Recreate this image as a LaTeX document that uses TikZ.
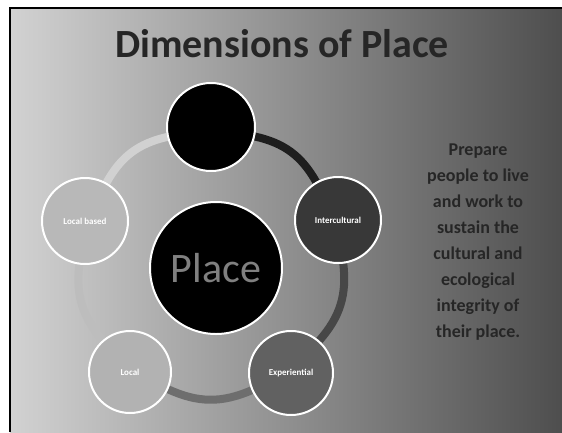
\documentclass[tikz,border=0pt]{standalone}
\usepackage{fontspec}
\setmainfont{Carlito}
\usetikzlibrary{backgrounds}
\definecolor{slideLight}{HTML}{D2D2D2}
\definecolor{slideDark}{HTML}{4E4E4E}
\definecolor{ringDark}{HTML}{1E1E1E}
\definecolor{ringMid}{HTML}{6E6E6E}
\definecolor{ringLight}{HTML}{BDBDBD}
\begin{document}
\begin{tikzpicture}[x=1pt, y=-1pt,
  dim/.style={circle, draw=white, line width=2pt, inner sep=0pt},
  link/.style={line width=8pt},
  lbl/.style={font=\bfseries\fontsize{9}{10}\selectfont, text=white},
  body/.style={font=\bfseries\fontsize{18}{26}\selectfont, align=center, text=black!85}]
  \useasboundingbox (0,0) rectangle (562,432);
  % circles of the cycle
  \node[dim, minimum size=88pt, fill=black] (top) at (211,127) {};
  \node[dim, minimum size=86pt, fill=black!78] (right) at (338,220) {};
  \node[dim, minimum size=84pt, fill=black!62] (bright) at (291,373) {};
  \node[dim, minimum size=82pt, fill=black!30] (bleft) at (130,372) {};
  \node[dim, minimum size=86pt, fill=black!28] (left) at (85,221) {};
  % centre
  \node[dim, minimum size=132pt, fill=black] (place) at (216,268) {};
  \node[font=\fontsize{42}{48}\selectfont, text=black!50] at (place) {Place};
  % labels
  \node[lbl] at (right) {Intercultural};
  \node[lbl] at (bright) {Experiential};
  \node[lbl] at (bleft) {Local};
  \node[lbl] at (left) {Local based};
  \begin{scope}[on background layer]
    % slide
    \shade[left color=slideLight, right color=slideDark] (10,8) rectangle (562,432);
    \draw[line width=2pt] (10,432) -- (10,8) -- (562,8);
    % ring
    \draw[link, ringDark] (top) to[bend left=24] (right);
    \draw[link, black!72] (right) to[bend left=24] (bright);
    \draw[link, ringMid] (bright) to[bend left=24] (bleft);
    \draw[link, ringLight] (bleft) to[bend left=24] (left);
    \draw[link, ringLight!70] (left) to[bend left=24] (top);
  \end{scope}
  % title and text
  \node[font=\bfseries\fontsize{40}{46}\selectfont, text=black!85] (title) at (282,44) {Dimensions of Place};
  \node[body] (aim) at (478,242) {Prepare\\people to live\\and work to\\sustain the\\cultural and\\ecological\\integrity of\\their place.};
\end{tikzpicture}
\end{document}
